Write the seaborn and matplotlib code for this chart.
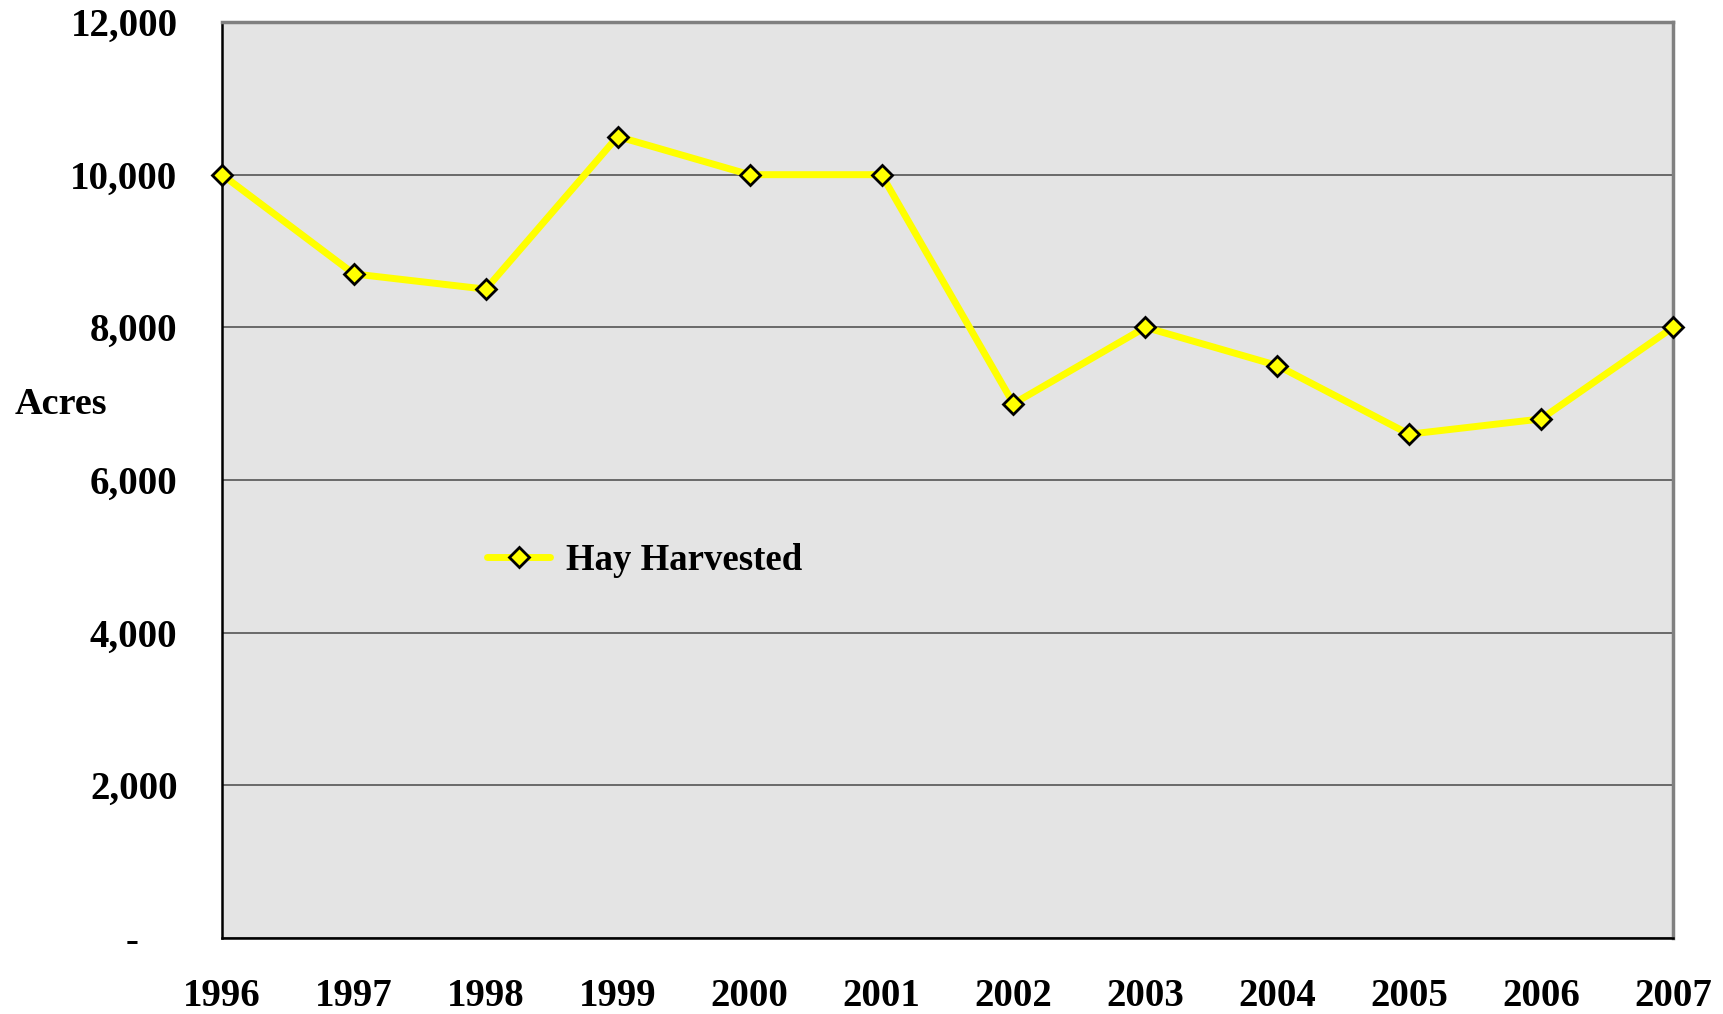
import matplotlib
matplotlib.use("Agg")
import matplotlib.pyplot as plt
import seaborn as sns
import pandas as pd

years = [1996, 1997, 1998, 1999, 2000, 2001, 2002, 2003, 2004, 2005, 2006, 2007]
acres = [10000, 8700, 8500, 10500, 10000, 10000, 7000, 8000, 7500, 6600, 6800, 8000]
y_ticks = [0, 2000, 4000, 6000, 8000, 10000, 12000]
y_labels = ["-    ", "2,000", "4,000", "6,000", "8,000", "10,000", "12,000"]

sns.set_style("white")
plt.rcParams["font.family"] = ["Liberation Serif", "DejaVu Serif"]
plt.rcParams["font.weight"] = "bold"
plt.rcParams["text.color"] = "black"
plt.rcParams["xtick.color"] = "black"
plt.rcParams["ytick.color"] = "black"

df = pd.DataFrame({"year": years, "acres": acres})

fig = plt.figure(figsize=(17.24, 10.14), dpi=100)
ax = fig.add_axes([222 / 1724, 1 - 938 / 1014, 1451 / 1724, 916 / 1014])
ax.set_facecolor("#e4e4e4")

sns.lineplot(data=df, x="year", y="acres", ax=ax, color="#ffff00", linewidth=5,
             marker="D", markersize=10, markerfacecolor="#ffff00",
             markeredgecolor="black", markeredgewidth=2, label="Hay Harvested",
             clip_on=False, zorder=5)

ax.set_xlim(1996, 2007)
ax.set_ylim(0, 12000)
ax.set_xticks(years)
ax.set_xticklabels([str(y) for y in years], fontsize=28, fontweight="bold")
ax.set_yticks(y_ticks)
ax.set_yticklabels(y_labels, fontsize=28, fontweight="bold")
ax.tick_params(axis="x", direction="out", length=12, width=1.5, pad=17, color="black")
ax.tick_params(axis="y", direction="out", length=12, width=1.5, pad=20, color="black")
ax.grid(axis="y", color="#555555", linewidth=1.2)
ax.set_axisbelow(True)
ax.set_xlabel("")
ax.set_ylabel("")

for side in ["left", "bottom"]:
    ax.spines[side].set_color("black")
    ax.spines[side].set_linewidth(1.8)
for side in ["top", "right"]:
    ax.spines[side].set_color("#808080")
    ax.spines[side].set_linewidth(2.5)

fig.text(15 / 1724, 1 - 405 / 1014, "Acres", fontsize=27.5, fontweight="bold",
         va="center", ha="left")

leg = ax.legend(loc="center left", bbox_to_anchor=(0.16, 0.412), frameon=False,
                fontsize=26.5, handlelength=1.7, handletextpad=0.45)
for t in leg.get_texts():
    t.set_fontweight("bold")

fig.savefig("out.png", dpi=100)
